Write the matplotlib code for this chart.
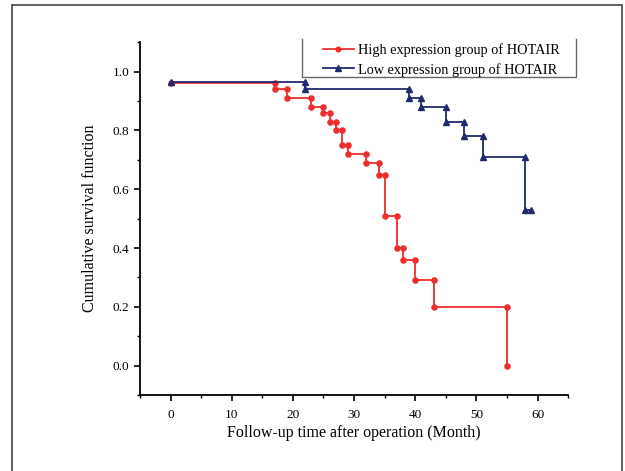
import matplotlib
matplotlib.use("Agg")
import matplotlib.pyplot as plt
from matplotlib.lines import Line2D
from matplotlib.patches import Rectangle

# Kaplan-Meier steps (time in months, survival after the step)
high_start = 0.96
high_times = [17, 19, 23, 25, 26, 27, 28, 29, 32, 34, 35, 37, 38, 40, 43, 55]
high_surv = [0.94, 0.91, 0.88, 0.86, 0.83, 0.80, 0.75, 0.72, 0.69, 0.65,
             0.51, 0.40, 0.36, 0.29, 0.20, 0.00]

low_start = 0.965
low_times = [22, 39, 41, 45, 48, 51, 58]
low_surv = [0.94, 0.91, 0.88, 0.83, 0.78, 0.71, 0.53]
low_end = 59

labels = ["High expression group of HOTAIR", "Low expression group of HOTAIR"]
xticks = [0, 10, 20, 30, 40, 50, 60]
yticks = [0.0, 0.2, 0.4, 0.6, 0.8, 1.0]


def step_vertices(start, times, surv, end=None):
    xs, ys = [0], [start]
    prev = start
    for t, s in zip(times, surv):
        xs += [t, t]
        ys += [prev, s]
        prev = s
    if end is not None:
        xs.append(end)
        ys.append(prev)
    return xs, ys


plt.rcParams["font.family"] = ["Liberation Serif", "DejaVu Serif"]

fig = plt.figure(figsize=(6.25, 4.71), dpi=100)
ax = fig.add_axes([0.224, 0.1614, 0.685, 0.7488])

red = "#ee2d2d"
navy = "#1f2b6e"

hx, hy = step_vertices(high_start, high_times, high_surv)
lx, ly = step_vertices(low_start, low_times, low_surv, low_end)

ax.plot(lx, ly, color=navy, lw=1.3, marker="^", ms=4, label=labels[1], zorder=3)
ax.plot(hx, hy, color=red, lw=1.3, marker="o", ms=3.7, label=labels[0], zorder=2)

ax.set_xlim(-5, 65)
ax.set_ylim(-0.1, 1.1)
ax.set_xticks(xticks)
ax.set_xticks(range(-5, 66, 10), minor=True)
ax.set_yticks(yticks)
ax.set_yticks([-0.1, 0.1, 0.3, 0.5, 0.7, 0.9, 1.1], minor=True)
ax.set_yticklabels([f"{v:.1f}" for v in yticks])

for side in ["top", "right"]:
    ax.spines[side].set_visible(False)
for side in ["left", "bottom"]:
    ax.spines[side].set_linewidth(1.3)
ax.tick_params(which="major", direction="out", length=4, width=1.2, labelsize=9.5)
ax.tick_params(axis="x", which="major", pad=6)
ax.tick_params(which="minor", direction="out", length=2.5, width=1.0)

ax.set_xlabel("Follow-up time after operation (Month)", fontsize=11.5, labelpad=3)
ax.set_ylabel("Cumulative survival function", fontsize=11.5, labelpad=11)

# legend without top edge, as in the reference
handles = [Line2D([], [], color=red, lw=1.3, marker="o", ms=3.3),
           Line2D([], [], color=navy, lw=1.3, marker="^", ms=3.8)]
fig.legend(handles, labels, loc="upper left", bbox_to_anchor=(0.5077, 0.921),
           frameon=False, fontsize=10.3, handlelength=2.15, handletextpad=0.3,
           labelspacing=0.42, borderaxespad=0)
x0, x1 = 301.7 / 625, 575.7 / 625
y0, y1 = 1 - 76.7 / 471, 1 - 39.3 / 471
fig.add_artist(Line2D([x0, x0, x1, x1], [y1, y0, y0, y1], color="#666666",
                      lw=1.0, transform=fig.transFigure))

# outer frame around the whole figure, bottom edge runs off the image
fig.add_artist(Rectangle((12 / 625, -0.05), (621.7 - 12) / 625, 1 - 5 / 471 + 0.05,
                         fill=False, edgecolor="#444444", lw=1.2,
                         transform=fig.transFigure, clip_on=False))

fig.savefig("out.png", dpi=100)
